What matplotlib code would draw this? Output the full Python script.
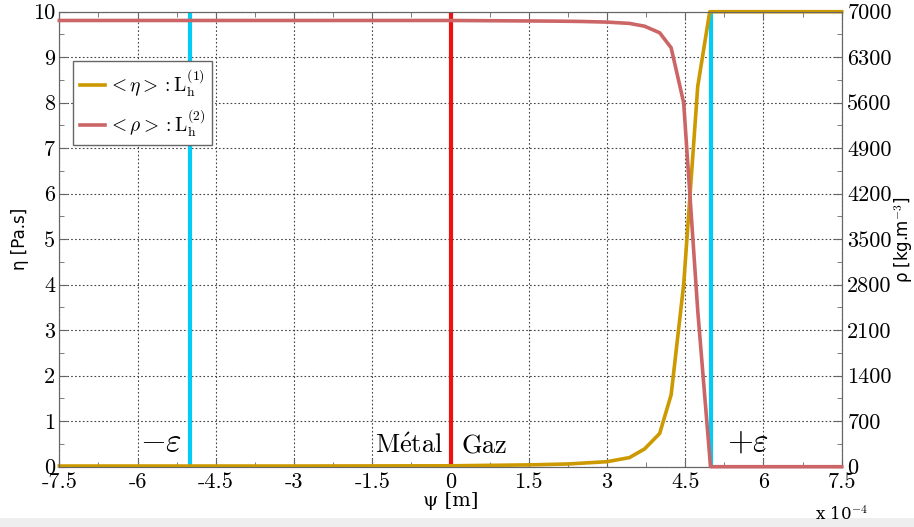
import matplotlib
matplotlib.use('Agg')
import matplotlib.pyplot as plt
from matplotlib.ticker import MultipleLocator, FuncFormatter
from matplotlib.patches import Rectangle

plt.rcParams['mathtext.fontset'] = 'cm'
plt.rcParams['axes.unicode_minus'] = False
plt.rcParams['font.family'] = ['cmr10', 'DejaVu Serif']
plt.rcParams['xtick.labelsize'] = 16
plt.rcParams['ytick.labelsize'] = 16

# psi in units of 1e-4 m
psi_eta = [-7.5, -3.0, 0.0, 1.5, 2.25, 3.0, 3.43, 3.72, 4.01, 4.23, 4.47, 4.74, 4.97, 7.5]
eta = [0.015, 0.015, 0.02, 0.04, 0.06, 0.11, 0.2, 0.39, 0.73, 1.58, 4.0, 8.36, 10.0, 10.0]

psi_rho = [-7.5, 0.0, 2.0, 2.5, 3.0, 3.43, 3.72, 4.01, 4.23, 4.47, 4.74, 4.985, 7.5]
rho = [6865, 6865, 6855, 6850, 6840, 6820, 6777, 6676, 6445, 5600, 2400, 0, 0]

eps = 5.0
x_ticks = [-7.5, -6, -4.5, -3, -1.5, 0, 1.5, 3, 4.5, 6, 7.5]
rho_ticks = [0, 700, 1400, 2100, 2800, 3500, 4200, 4900, 5600, 6300, 7000]

gold = '#CC9900'
rose = '#CC6666'
cyan = '#00CCF5'
red = '#EE1111'
spine_c = '#666666'

fig = plt.figure(figsize=(9.14, 5.27), dpi=100)
ax = fig.add_axes([0.0649, 0.1144, 0.856, 0.8634])
ax2 = ax.twinx()

ax.set_xlim(-7.5, 7.5)
ax.set_ylim(0, 10)
ax2.set_ylim(0, 7000)

# vertical markers
ax.plot([-eps, -eps], [0, 10], color=cyan, lw=3, zorder=3)
ax.plot([eps, eps], [0, 10], color=cyan, lw=3, zorder=3)
ax.plot([0, 0], [0, 10], color=red, lw=3, zorder=3)

l1, = ax.plot(psi_eta, eta, color=gold, lw=2.6, zorder=4, clip_on=False)
l2, = ax2.plot(psi_rho, rho, color=rose, lw=2.6, zorder=4, clip_on=False)

# ticks
ax.set_xticks(x_ticks)
ax.xaxis.set_minor_locator(MultipleLocator(0.75))
ax.yaxis.set_major_locator(MultipleLocator(1))
ax.yaxis.set_minor_locator(MultipleLocator(0.5))
ax2.set_yticks(rho_ticks)
ax2.yaxis.set_minor_locator(MultipleLocator(350))

fmt = FuncFormatter(lambda v, p: ('%g' % v))
ax.xaxis.set_major_formatter(fmt)
ax.yaxis.set_major_formatter(fmt)
ax2.yaxis.set_major_formatter(fmt)

for a in (ax, ax2):
    a.tick_params(which='both', direction='in', color=spine_c)
    a.tick_params(which='major', length=6)
    a.tick_params(which='minor', length=3.5)
    for s in a.spines.values():
        s.set_color(spine_c)
ax.tick_params(axis='x', which='both', top=True, pad=4)
ax.tick_params(axis='y', pad=3)
ax2.tick_params(axis='y', pad=4)
ax2.tick_params(axis='x', which='both', top=True)

ax.grid(True, which='major', linestyle=(0, (1.5, 2)), color='#444444', lw=0.8)

ax.set_ylabel('η [Pa.s]', fontsize=12, family='DejaVu Sans', labelpad=3)
ax2.set_ylabel(r'ρ [kg.m$^{-3}$]', fontsize=12, family='DejaVu Sans', labelpad=0)
ax.set_xlabel('ψ [m]', fontsize=14, family='DejaVu Serif', labelpad=0)
fig.text(0.892, 0.014, r'x 10$^{-4}$', fontsize=12, family='DejaVu Serif')

ax.text(-5.55, 0.22, r'$-\varepsilon$', fontsize=24, ha='center', va='bottom')
ax.text(-0.15, 0.2, r'$\mathrm{M\acute{e}tal}$', fontsize=19, ha='right', va='bottom')
ax.text(0.2, 0.2, r'$\mathrm{Gaz}$', fontsize=19, ha='left', va='bottom')
ax.text(5.7, 0.22, r'$+\varepsilon$', fontsize=24, ha='center', va='bottom')

leg = ax2.legend([l1, l2],
                 [r'$<\mathrm{\eta}>:\mathrm{L}_\mathrm{h}^{(1)}$',
                  r'$<\mathrm{\rho}>:\mathrm{L}_\mathrm{h}^{(2)}$'],
                 loc='upper left', bbox_to_anchor=(0.0175, 0.892), borderaxespad=0,
                 fontsize=14, handlelength=1.3, handletextpad=0.15, fancybox=False,
                 framealpha=1, edgecolor=spine_c, borderpad=0.35, labelspacing=0.4)
leg.get_frame().set_linewidth(1.0)
leg.set_zorder(10)

fig.patches.append(Rectangle((0, 0), 1, 0.018, transform=fig.transFigure,
                             facecolor='#eeeeee', edgecolor='none', zorder=-1))

fig.savefig('out.png', dpi=100)
